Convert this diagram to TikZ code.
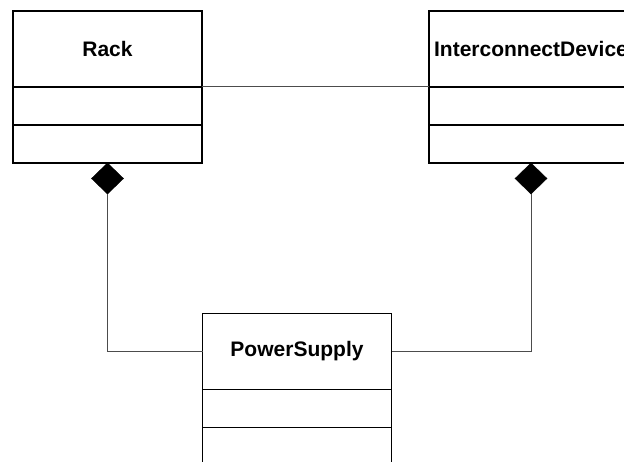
\documentclass[tikz,border=0pt]{standalone}
\usepackage{fontspec}
\setmainfont{Liberation Sans}
\usetikzlibrary{positioning,shapes.geometric}

\begin{document}
\begin{tikzpicture}[x=1pt, y=1pt,
    classhead/.style={draw, line width=1.5pt, outer sep=0pt, inner sep=0pt,
        minimum height=76pt, font=\bfseries\fontsize{21}{25}\selectfont},
    classbody/.style={draw, line width=1.5pt, outer sep=0pt, inner sep=0pt,
        minimum height=38pt},
    compdiamond/.style={diamond, draw, fill=black, outer sep=0pt, inner sep=0pt,
        minimum width=32pt, minimum height=31pt},
    assoc/.style={draw=black!70, line width=1pt}]
    \useasboundingbox (0,0) rectangle (624,462);
    \clip (0,0) rectangle (624,462);
    % Rack
    \node[classhead, minimum width=189pt] (rack) at (107.5,413) {Rack};
    \node[classbody, minimum width=189pt, below=0pt of rack] (rackattr) {};
    \node[classbody, minimum width=189pt, below=0pt of rackattr] (rackops) {};
    % InterconnectDevice
    \node[classhead, minimum width=204pt] (icd) at (531,413) {InterconnectDevice};
    \node[classbody, minimum width=204pt, below=0pt of icd] (icdattr) {};
    \node[classbody, minimum width=204pt, below=0pt of icdattr] (icdops) {};
    % PowerSupply
    \node[classhead, minimum width=189pt] (psu) at (297,110.5) {PowerSupply};
    \node[classbody, minimum width=189pt, below=0pt of psu] (psuattr) {};
    \node[classbody, minimum width=189pt, below=0pt of psuattr] (psuops) {};
    % Composition diamonds
    \node[compdiamond, below=0pt of rackops] (rackdia) {};
    \node[compdiamond, below=0pt of icdops] (icddia) {};
    % Connectors
    \draw[assoc] (rack.south east) -- (icd.south west);
    \draw[assoc] (rackdia.south) |- (psu.west);
    \draw[assoc] (icddia.south) |- (psu.east);
\end{tikzpicture}
\end{document}
